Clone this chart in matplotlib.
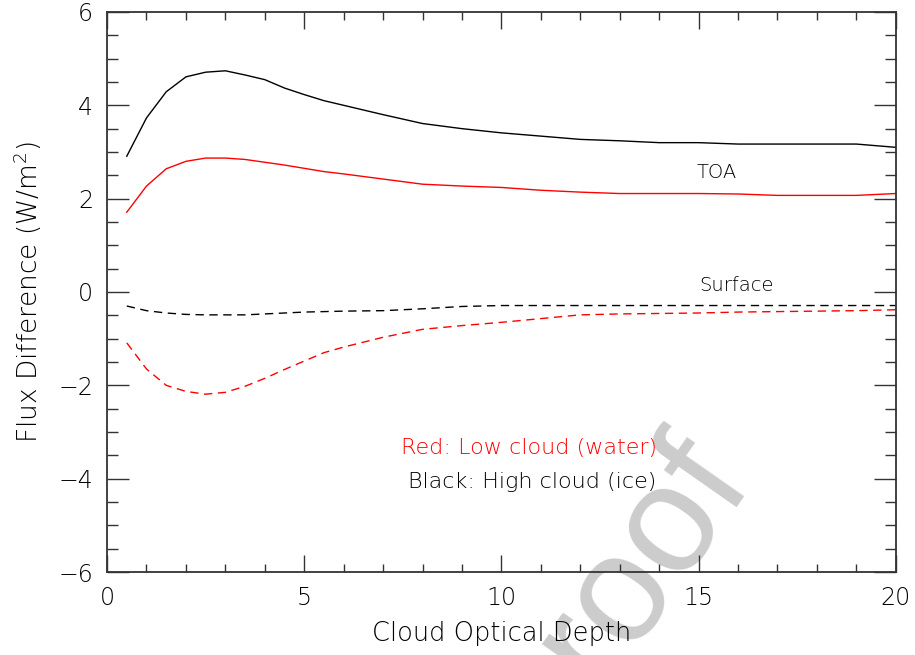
import numpy as np
import matplotlib
matplotlib.use("Agg")
import matplotlib.pyplot as plt
from matplotlib.ticker import MultipleLocator

# cloud optical depth sample points
tau = [0.5, 1, 1.5, 2, 2.5, 3, 3.5, 4, 4.5, 5, 5.5, 6, 7, 8, 9, 10,
       11, 12, 13, 14, 15, 16, 17, 18, 19, 20]

# TOA flux difference (solid)
toa_ice = [2.91, 3.73, 4.29, 4.61, 4.71, 4.74, 4.65, 4.55, 4.37, 4.23, 4.10, 4.00, 3.80, 3.61,
           3.50, 3.41, 3.34, 3.27, 3.24, 3.20, 3.20, 3.17, 3.17, 3.17, 3.17, 3.10]
toa_water = [1.71, 2.27, 2.64, 2.80, 2.87, 2.87, 2.84, 2.78, 2.72, 2.65, 2.58, 2.53, 2.42, 2.31,
             2.27, 2.24, 2.18, 2.14, 2.11, 2.11, 2.11, 2.10, 2.07, 2.07, 2.07, 2.11]

# surface flux difference (dashed)
sfc_ice = [-0.30, -0.40, -0.45, -0.48, -0.49, -0.49, -0.49, -0.47, -0.45, -0.43, -0.42, -0.41,
           -0.40, -0.36, -0.31, -0.29, -0.29, -0.29, -0.29, -0.29, -0.29, -0.29, -0.29, -0.29,
           -0.29, -0.29]
sfc_water = [-1.09, -1.65, -2.00, -2.13, -2.19, -2.15, -2.02, -1.85, -1.66, -1.48, -1.30, -1.18,
             -0.97, -0.80, -0.72, -0.65, -0.57, -0.49, -0.47, -0.46, -0.45, -0.43, -0.42, -0.41,
             -0.40, -0.38]

plt.rcParams["font.weight"] = "light"
plt.rcParams["axes.labelweight"] = "light"

fig = plt.figure(figsize=(9.15, 6.55), dpi=100)
ax = fig.add_axes([0.117, 0.1267, 0.862, 0.855])
ax.set_facecolor("none")

ax.plot(tau, toa_ice, color="black", lw=1.0)
ax.plot(tau, toa_water, color="red", lw=1.0)
ax.plot(tau, sfc_ice, color="black", lw=1.0, dashes=(6, 4))
ax.plot(tau, sfc_water, color="red", lw=1.0, dashes=(6, 4))

ax.set_xlim(0, 20)
ax.set_ylim(-6, 6)
ax.xaxis.set_major_locator(MultipleLocator(5))
ax.xaxis.set_minor_locator(MultipleLocator(1))
ax.yaxis.set_major_locator(MultipleLocator(2))
ax.yaxis.set_minor_locator(MultipleLocator(0.5))
ax.tick_params(which="both", direction="in", top=True, right=True, width=1.0, color="#333333")
ax.tick_params(which="major", length=12, labelsize=17, pad=10)
ax.tick_params(which="minor", length=6)
ax.tick_params(axis="y", which="major", length=16)
ax.tick_params(axis="y", which="minor", length=8)
for s in ax.spines.values():
    s.set_linewidth(1.3)
    s.set_color("#333333")

ax.set_xlabel("Cloud Optical Depth", fontsize=18.5, labelpad=8)
ax.set_ylabel("Flux Difference (W/m$^2$)", fontsize=19, labelpad=10)

ax.text(15.46, 2.55, "TOA", fontsize=14, ha="center", va="center")
ax.text(15.97, 0.13, "Surface", fontsize=14, ha="center", va="center")
ax.text(13.94, -3.34, "Red: Low cloud (water)", fontsize=16, color="red", ha="right", va="center")
ax.text(13.94, -4.07, "Black: High cloud (ice)", fontsize=16, color="black", ha="right", va="center")

# watermark, behind everything
fig.text(0.669, 0.084, "Proof", fontsize=110, color="#cccccc", rotation=55,
         family="Liberation Sans", weight="normal", ha="center", va="center", zorder=-5)

fig.savefig("out.png", dpi=100)
